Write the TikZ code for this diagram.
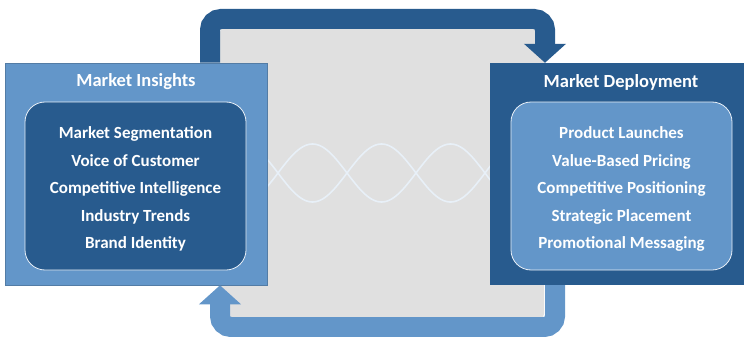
\documentclass[tikz,border=0pt]{standalone}
\usepackage{fontspec}
\setmainfont{Carlito}
\usetikzlibrary{arrows.meta}
\definecolor{darkblue}{HTML}{285B8E}
\definecolor{lightblue}{HTML}{6396C9}
\definecolor{panelgray}{HTML}{E0E0E0}
\definecolor{wavecol}{HTML}{E8F0F8}
\begin{document}
\begin{tikzpicture}[x=1pt, y=-1pt,
  outerbox/.style={minimum width=262pt, minimum height=222pt, inner sep=0pt},
  innerbox/.style={minimum width=221pt, minimum height=168pt, rounded corners=20pt,
    draw=white!85!lightblue, line width=0.8pt, align=center, text=white,
    font=\fontsize{17}{27.5}\selectfont\bfseries},
  boxtitle/.style={text=white, font=\fontsize{18.5}{20}\selectfont\bfseries},
  loop/.style={line width=20pt, rounded corners=11pt,
    -{Triangle[width=41pt, length=19pt]}},
  wave/.style={wavecol, line width=1.6pt}]
  \useasboundingbox (0,0) rectangle (744,337);
  % fond gris entre les deux blocs
  \fill[panelgray, rounded corners=4pt] (220,28) rectangle (544,318);
  % ondes
  \draw[wave] plot[domain=262:495, samples=120] (\x, {173-29*sin((\x-278)/138*360)});
  \draw[wave] plot[domain=262:495, samples=120] (\x, {173+29*sin((\x-278)/138*360)});
  % bloc de gauche
  \node[outerbox, fill=lightblue, draw=darkblue!80, line width=0.6pt] (insights) at (136,174) {};
  \node[boxtitle] (insightsT) at (136,82) {Market Insights};
  \node[innerbox, fill=darkblue] (insightsL) at (135.5,186) {};
  \node[innerbox, draw=none, fill=none] (insightsTx) at (135.5,189) {Market Segmentation\\
    Voice of Customer\\ Competitive Intelligence\\ Industry Trends\\ Brand Identity};
  % bloc de droite
  \node[outerbox, minimum width=256pt, fill=darkblue] (deploy) at (618,174) {};
  \node[boxtitle] (deployT) at (621,82) {Market Deployment};
  \node[innerbox, fill=lightblue] (deployL) at (621.5,186) {};
  \node[innerbox, draw=none, fill=none] (deployTx) at (621.5,189) {Product Launches\\
    Value-Based Pricing\\ Competitive Positioning\\ Strategic Placement\\ Promotional Messaging};
  % fleches de boucle
  \draw[loop, darkblue] (insights.north -| 210,0) -- (210,19) -- (545,19) -- (deploy.north -| 545,0);
  \draw[loop, lightblue] (deploy.south -| 555,0) -- (555,327) -- (220,327) -- (insights.south -| 220,0);
\end{tikzpicture}
\end{document}
